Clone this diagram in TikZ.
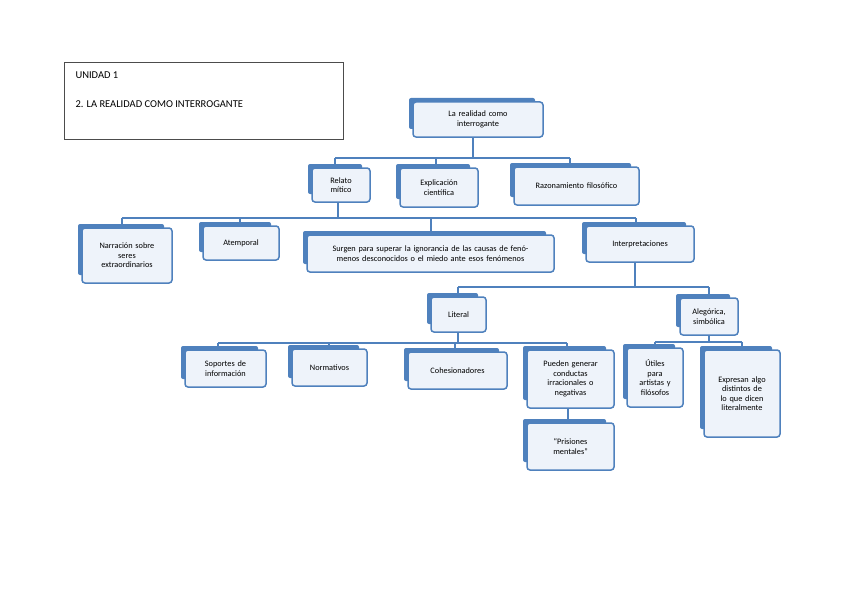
\documentclass[tikz,border=0pt]{standalone}
\usepackage{fontspec}
\setmainfont{Carlito}
\definecolor{bl}{RGB}{79,129,189}
\definecolor{fr}{RGB}{238,243,250}
\newcommand\bx[6]{%
  \fill[bl,rounded corners=2pt] (#2-#4/2-4,#3-#5/2-4) rectangle (#2+#4/2-8,#3+#5/2-8);
  \node[box,minimum width=#4pt,minimum height=#5pt,text width=#4pt-8pt] (#1) at (#2,#3) {#6};}
\begin{document}
\begin{tikzpicture}[x=1pt,y=-1pt,
  box/.style={draw=bl,line width=1.5pt,fill=fr,rounded corners=3pt,align=center,font=\fontsize{8.3}{9.5}\selectfont,inner sep=1pt},
  con/.style={draw=bl,line width=2.2pt}]
\useasboundingbox (0,0) rectangle (848,599);
\node[draw=black!70,line width=0.6pt,minimum width=279pt,minimum height=77pt,anchor=north west] (title) at (64,62) {};
\node[anchor=west,font=\fontsize{10.5}{12}\selectfont] (t1) at (72,75) {UNIDAD 1};
\node[anchor=west,font=\fontsize{10.5}{12}\selectfont] (t2) at (72,104) {2. LA REALIDAD COMO INTERROGANTE};
\draw[con] (473,137) -- (473,158) (335,158) -- (570,158) (335,158) -- (335,168) (436,158) -- (436,168) (570,158) -- (570,167);
\draw[con] (338,202) -- (338,218) (122,218) -- (636,218) (122,218) -- (122,228) (240,218) -- (240,226) (431,218) -- (431,235) (636,218) -- (636,226);
\draw[con] (635,262) -- (635,287) (458,287) -- (709,287) (458,287) -- (458,297) (709,287) -- (709,298);
\draw[con] (458,332) -- (458,343) (218,343) -- (567,343) (218,343) -- (218,350) (329,343) -- (329,349) (455,343) -- (455,352) (567,343) -- (567,350);
\draw[con] (568,408) -- (568,423);
\draw[con] (709,335) -- (709,342) (655,342) -- (742,342) (655,342) -- (655,348) (742,342) -- (742,350);
\bx{root}{478}{119.5}{130}{35}{La realidad como\\interrogante}
\bx{relato}{341}{185}{58}{34}{Relato\\mítico}
\bx{expl}{439}{187.5}{78}{39}{Explicación\\científica}
\bx{razon}{576.5}{186}{125}{38}{Razonamiento filosófico}
\bx{narr}{127}{255.5}{90}{55}{Narración sobre\\seres\\extraordinarios}
\bx{atemp}{241}{243}{76}{34}{Atemporal}
\bx{surgen}{430.5}{253.5}{247}{37}{Surgen para superar la ignorancia de las causas de fenómenos desconocidos o el miedo ante esos fenómenos}
\bx{interp}{640}{244}{108}{36}{Interpretaciones}
\bx{literal}{458.5}{314.5}{55}{35}{Literal}
\bx{aleg}{709}{316.5}{58}{37}{Alegórica,\\simbólica}
\bx{sop}{225.5}{368.5}{81}{37}{Soportes de\\información}
\bx{norm}{329.5}{367.5}{75}{37}{Normativos}
\bx{cohes}{457.5}{370.5}{99}{37}{Cohesionadores}
\bx{pued}{570.5}{379}{87}{58}{Pueden generar\\conductas\\irracionales o\\negativas}
\bx{pris}{570.5}{446.5}{87}{47}{“Prisiones\\mentales”}
\bx{util}{655}{377.5}{56}{59}{Útiles\\para\\artistas y\\filósofos}
\bx{expr}{742}{393.5}{76}{87}{Expresan algo\\distintos de\\lo que dicen\\literalmente}
\end{tikzpicture}
\end{document}
